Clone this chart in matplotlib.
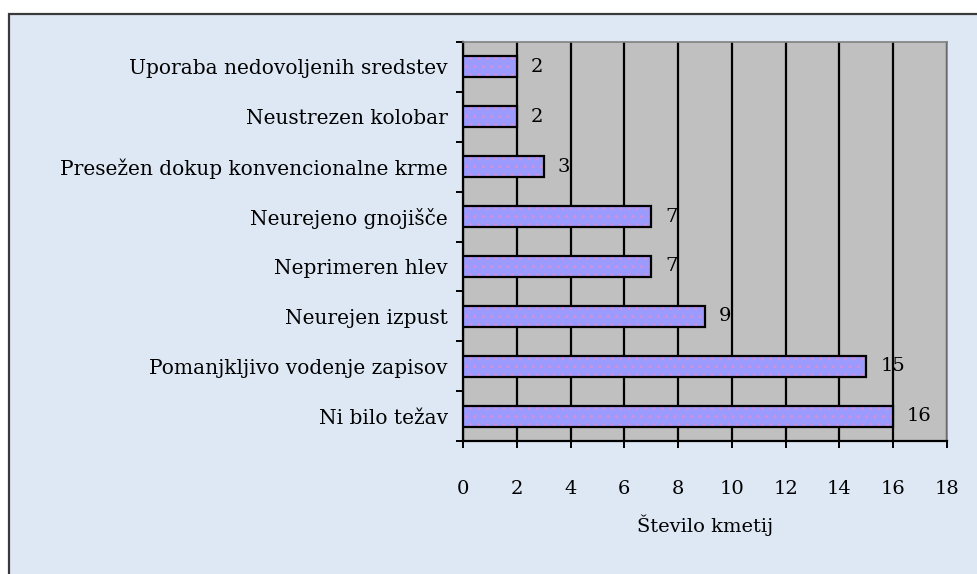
import numpy as np
import matplotlib
matplotlib.use("Agg")
import matplotlib.pyplot as plt
from matplotlib.patches import Rectangle

# data, bottom to top as in the chart
categories = ["Ni bilo težav", "Pomanjkljivo vodenje zapisov", "Neurejen izpust",
              "Neprimeren hlev", "Neurejeno gnojišče",
              "Presežen dokup konvencionalne krme", "Neustrezen kolobar",
              "Uporaba nedovoljenih sredstev"]
counts = [16, 15, 9, 7, 7, 3, 2, 2]
x_ticks = [0, 2, 4, 6, 8, 10, 12, 14, 16, 18]
x_label = "Število kmetij"

W, H = 978, 574
FONT = "DejaVu Serif"
FS = 14
BG = "#dde8f4"
BAR = "#9a9aff"
PLOT_BG = "#c0c0c0"

fig = plt.figure(figsize=(W / 100, H / 100), dpi=100, facecolor="white")
# light blue panel with a dark frame on top/left
panel = Rectangle((8.5 / W, -0.02), 1.0, (H - 13.5) / H + 0.02,
                  transform=fig.transFigure, facecolor=BG,
                  edgecolor="#3a3a3a", linewidth=1.6, zorder=-5)
fig.add_artist(panel)

ax = fig.add_axes([463 / W, (H - 441) / H, (947 - 463) / W, (441 - 42) / H])
ax.set_zorder(2)
ax.set_facecolor(PLOT_BG)
y = np.arange(len(categories))
ax.barh(y, counts, height=0.42, color=BAR, edgecolor="#d58fd8", hatch="..",
        linewidth=0, zorder=3)
ax.barh(y, counts, height=0.42, color="none", edgecolor="black", linewidth=1.6, zorder=4)
for yi, v in zip(y, counts):
    ax.annotate(str(v), (v, yi), xytext=(10, 0), textcoords="offset points",
                va="center", ha="left", fontsize=FS, family=FONT)

ax.set_xlim(0, 18)
ax.set_ylim(-0.5, len(categories) - 0.5)
ax.set_xticks(x_ticks)
ax.xaxis.grid(True, color="black", linewidth=1.6, zorder=1)
ax.set_axisbelow(True)
ax.tick_params(axis="x", direction="out", length=5, width=1.4, pad=23,
               labelsize=FS)
for lab in ax.get_xticklabels():
    lab.set_family(FONT)
ax.set_yticks(y)
ax.set_yticklabels(categories, family=FONT, fontsize=14.5)
ax.set_yticks(np.arange(-0.5, len(categories)), minor=True)
ax.tick_params(axis="y", which="major", length=0, pad=11)
ax.tick_params(axis="y", which="minor", direction="out", length=5, width=1.4)
ax.set_xlabel(x_label, family=FONT, fontsize=FS, labelpad=12)

for side in ("top", "right"):
    ax.spines[side].set_color("#808080")
    ax.spines[side].set_linewidth(1.2)
for side in ("left", "bottom"):
    ax.spines[side].set_color("black")
    ax.spines[side].set_linewidth(1.6)

fig.savefig("out.png", dpi=100, facecolor=fig.get_facecolor())
